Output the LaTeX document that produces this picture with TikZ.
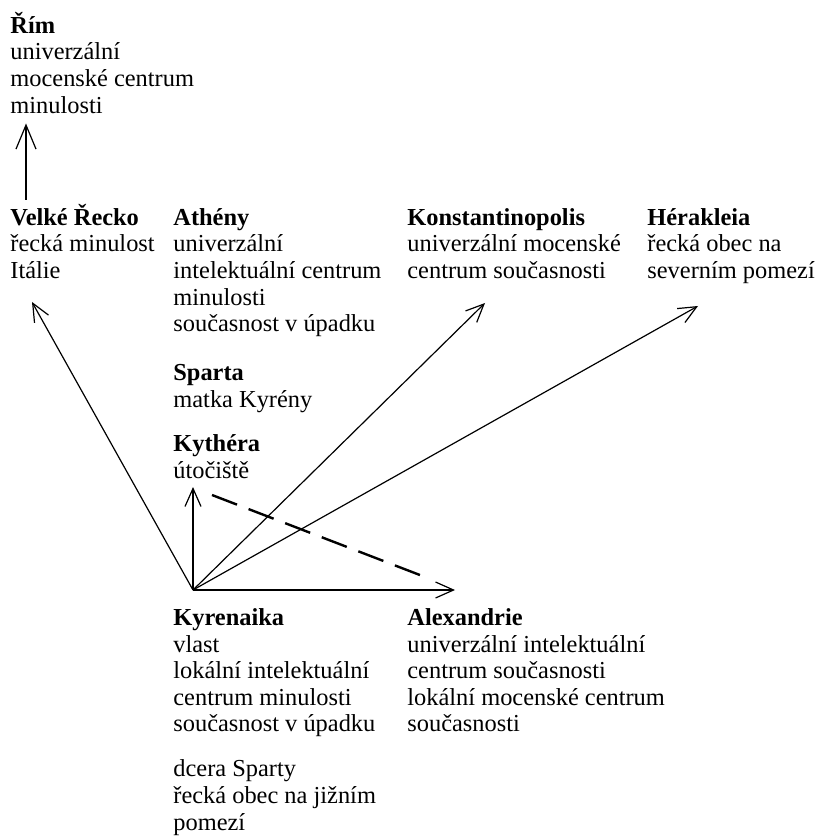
\documentclass[tikz,border=0pt]{standalone}
\usepackage{fontspec}
\setmainfont{Liberation Serif}
\usetikzlibrary{arrows.meta}
\newcommand{\firstln}{\rule{0pt}{11pt}}
\begin{document}
\begin{tikzpicture}[x=0.5pt,y=-0.5pt,
  txt/.style={anchor=north west,inner sep=0pt,align=left,font=\fontsize{12.2}{13.3}\selectfont},
  conn/.style={line width=0.6pt,-{Straight Barb[length=9pt,width=8pt,line width=0.6pt]}},
  big conn/.style={line width=0.6pt,-{Straight Barb[length=12pt,width=10pt,line width=0.6pt]}},
  dash conn/.style={line width=1.2pt,dash pattern=on 13.4pt off 6.2pt}]
\useasboundingbox (0,0) rectangle (814,839);
% positions are (x, first baseline - 22)
\node[txt] (rim) at (10,11) {\firstln\textbf{Řím}\\univerzální\\mocenské centrum\\minulosti};
\node[txt] (velke) at (10,203) {\firstln\textbf{Velké Řecko}\\řecká minulost\\Itálie};
\node[txt] (atheny) at (173,203) {\firstln\textbf{Athény}\\univerzální\\intelektuální centrum\\minulosti\\současnost v úpadku};
\node[txt] (konst) at (407,203) {\firstln\textbf{Konstantinopolis}\\univerzální mocenské\\centrum současnosti};
\node[txt] (herak) at (647,203) {\firstln\textbf{Hérakleia}\\řecká obec na\\severním pomezí};
\node[txt] (sparta) at (173,358) {\firstln\textbf{Sparta}\\matka Kyrény};
\node[txt] (kythera) at (173,429) {\firstln\textbf{Kythéra}\\útočiště};
\node[txt] (kyren) at (173,603) {\firstln\textbf{Kyrenaika}\\vlast\\lokální intelektuální\\centrum minulosti\\současnost v úpadku};
\node[txt] (kyren2) at (173,754.5) {\firstln dcera Sparty\\řecká obec na jižním\\pomezí};
\node[txt] (alex) at (407,603) {\firstln\textbf{Alexandrie}\\univerzální intelektuální\\centrum současnosti\\lokální mocenské centrum\\současnosti};
\coordinate (O) at (193,590);
\coordinate (rimtip) at (26,123.5);
\coordinate (rimfoot) at (26,200);
\coordinate (velketip) at (32,302);
\coordinate (konsttip) at (485,303);
\coordinate (heraktip) at (698,306);
\coordinate (kythtip) at (193,487);
\coordinate (alextip) at (455,590);
\coordinate (dashA) at (212,495);
\coordinate (dashB) at (421.7,575.7);
\draw[big conn] (rimfoot) -- (rimtip);
\draw[conn] (O) -- (velketip);
\draw[conn] (O) -- (konsttip);
\draw[conn] (O) -- (heraktip);
\draw[conn] (O) -- (kythtip);
\draw[conn] (O) -- (alextip);
\draw[dash conn] (dashA) -- (dashB);
\end{tikzpicture}
\end{document}
